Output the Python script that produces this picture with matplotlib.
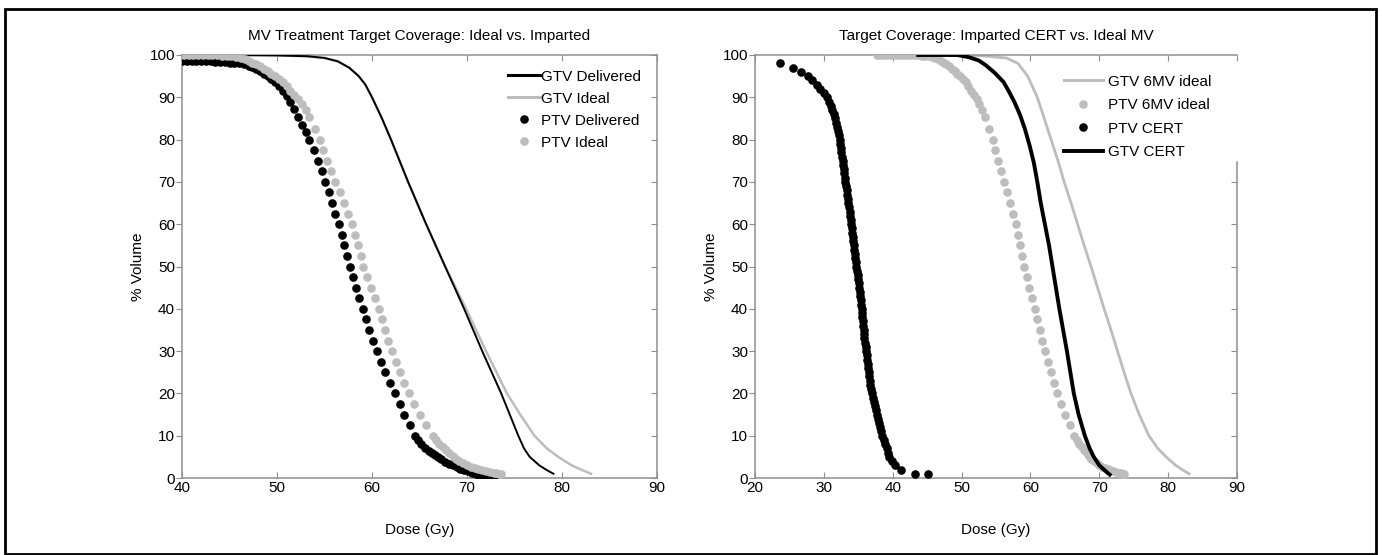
import matplotlib
matplotlib.use("Agg")
import matplotlib.pyplot as plt
import matplotlib.lines as mlines
from matplotlib.patches import Rectangle

plt.rcParams['font.family'] = ['Liberation Sans', 'DejaVu Sans']
plt.rcParams['font.size'] = 11

# ---- data (dose in Gy, % volume) ----
# left panel GTV curves
gtv_del_dose = [40.0, 45.0, 50.0, 53.2, 55.0, 56.4, 57.6, 58.6, 59.3, 60.0, 61.05, 62.0, 62.9, 63.8,
                64.75, 65.7, 66.7, 67.7, 68.7, 69.7, 70.65, 71.6, 72.6, 73.6, 74.5, 75.4, 76.0,
                76.6, 77.6, 78.3, 79.1]
gtv_del_vol = [100, 100, 99.9, 99.7, 99.3, 98.5, 97.0, 95.0, 93.0, 90.0, 85.0, 80.0, 75.0, 70.0,
               65.0, 60.0, 55.0, 50.0, 45.0, 40.0, 35.0, 30.0, 25.0, 20.0, 15.0, 10.0, 7.0,
               5.0, 3.0, 2.0, 1.0]
gtv_ideal_dose = [40.0, 45.0, 50.0, 53.2, 55.0, 56.4, 57.6, 58.6, 59.3, 60.0, 61.05, 62.0, 62.9, 63.8,
                  64.75, 65.7, 66.7, 67.7, 68.8, 69.9, 70.95, 72.0, 73.1, 74.2, 75.6, 77.1, 78.4,
                  79.6, 81.0, 82.0, 83.05]
gtv_ideal_vol = [100, 100, 99.9, 99.7, 99.3, 98.5, 97.0, 95.0, 93.0, 90.0, 85.0, 80.0, 75.0, 70.0,
                 65.0, 60.0, 55.0, 50.0, 45.0, 40.0, 35.0, 30.0, 25.0, 20.0, 15.0, 10.0, 7.0,
                 5.0, 3.0, 2.0, 1.0]

# right panel GTV curves
gtv_6mv_dose = [37.7, 45.0, 50.0, 53.0, 56.5, 58.2, 59.6, 60.3, 61.0, 62.0, 63.0, 64.0, 64.9, 65.9,
                66.85, 67.8, 68.8, 69.75, 70.7, 71.7, 72.65, 73.6, 74.6, 75.8, 77.2, 78.5, 79.7,
                81.1, 82.0, 83.05]
gtv_6mv_vol = [100, 100, 99.9, 99.8, 99.3, 98.0, 95.0, 92.5, 90.0, 85.0, 80.0, 75.0, 70.0, 65.0,
               60.0, 55.0, 50.0, 45.0, 40.0, 35.0, 30.0, 25.0, 20.0, 15.0, 10.0, 7.0, 5.0,
               3.0, 2.0, 1.0]
gtv_cert_dose = [43.7, 49.4, 51.0, 52.5, 53.5, 54.8, 56.1, 56.9, 57.7, 58.5, 59.2, 59.9, 60.5, 61.0,
                 61.5, 62.1, 62.7, 63.2, 63.7, 64.2, 64.75, 65.3, 65.8, 66.3, 67.0, 67.9, 68.6,
                 69.2, 70.0, 70.8, 71.5]
gtv_cert_vol = [100, 100, 99.5, 98.7, 97.6, 95.8, 93.6, 91.3, 88.8, 85.8, 82.5, 78.5, 74.5, 70.0,
                65.0, 60.0, 55.0, 50.0, 45.0, 40.0, 35.0, 30.0, 25.0, 20.0, 15.0, 10.0, 7.0,
                5.0, 3.0, 1.8, 0.8]

# PTV ideal (same plan in both panels)
ptv_ideal_dose = [37.7, 38.2, 38.7, 39.2, 39.7, 40.2, 40.7, 41.2, 41.7, 42.2, 42.7, 43.2, 43.7, 44.2,
                  44.7, 45.2, 45.7, 46.2, 46.6, 47.0, 47.4, 47.8, 48.2, 48.6, 49.0, 49.4, 49.8, 50.2,
                  50.6, 51.0, 51.4, 51.8, 52.2, 52.6, 53.0, 53.4,
                  54.0, 54.5, 54.85, 55.3, 55.7, 56.1, 56.6, 57.05, 57.5, 57.9, 58.2, 58.5, 58.8, 59.1,
                  59.45, 59.85, 60.3, 60.7, 61.0, 61.35, 61.7, 62.1, 62.5, 62.95, 63.4, 63.9, 64.45, 65.0,
                  65.7, 66.4,
                  66.75, 67.1, 67.45, 67.8, 68.15, 68.5, 68.85, 69.2, 69.6, 70.0, 70.4, 70.8, 71.2, 71.6,
                  72.0, 72.4, 72.8, 73.1, 73.4, 73.6]
ptv_ideal_vol = [100, 100, 100, 100, 100, 100, 100, 100, 99.9, 99.9, 99.9, 99.9, 99.9, 99.8,
                 99.8, 99.7, 99.5, 99.3, 99.0, 98.6, 98.2, 97.8, 97.4, 96.8, 96.2, 95.6, 95.0, 94.3,
                 93.5, 92.6, 91.6, 90.6, 89.5, 88.3, 86.9, 85.3,
                 82.5, 80.0, 77.5, 75.0, 72.5, 70.0, 67.5, 65.0, 62.5, 60.0, 57.5, 55.0, 52.5, 50.0,
                 47.5, 45.0, 42.5, 40.0, 37.5, 35.0, 32.5, 30.0, 27.5, 25.0, 22.5, 20.0, 17.5, 15.0,
                 12.5, 10.0,
                 9.0, 8.1, 7.3, 6.6, 5.9, 5.3, 4.6, 4.0, 3.5, 3.0, 2.7, 2.4, 2.15, 1.95,
                 1.7, 1.5, 1.3, 1.15, 1.0, 0.95]

ptv_del_dose = [40.0, 40.5, 41.0, 41.5, 42.0, 42.5, 43.0, 43.5, 44.0, 44.5, 45.0, 45.5, 46.0, 46.5,
                47.0, 47.4, 47.8, 48.2, 48.6, 49.0, 49.4, 49.8, 50.2, 50.6, 51.0, 51.4, 51.8, 52.2,
                52.6, 53.0,
                53.4, 53.85, 54.3, 54.7, 55.1, 55.45, 55.8, 56.15, 56.5, 56.8, 57.1, 57.4, 57.7, 58.0,
                58.3, 58.65, 59.0, 59.35, 59.7, 60.1, 60.5, 60.95, 61.4, 61.9, 62.4, 62.9, 63.4, 63.95,
                64.5,
                64.85, 65.2, 65.6, 65.95, 66.3, 66.6, 66.9, 67.3, 67.7, 68.1, 68.5, 68.9, 69.3, 69.7,
                70.1, 70.5, 70.9, 71.3, 71.7, 72.1, 72.5, 72.8]
ptv_del_vol = [98.6, 98.6, 98.6, 98.5, 98.5, 98.5, 98.5, 98.4, 98.4, 98.3, 98.2, 98.1, 98.0, 97.8,
               97.5, 97.1, 96.7, 96.1, 95.6, 95.0, 94.3, 93.5, 92.6, 91.5, 90.2, 88.8, 87.2, 85.4,
               83.5, 81.7,
               80.0, 77.5, 75.0, 72.5, 70.0, 67.5, 65.0, 62.5, 60.0, 57.5, 55.0, 52.5, 50.0, 47.5,
               45.0, 42.5, 40.0, 37.5, 35.0, 32.5, 30.0, 27.5, 25.0, 22.5, 20.0, 17.5, 15.0, 12.5,
               10.0,
               9.0, 8.1, 7.2, 6.5, 5.8, 5.4, 5.0, 4.4, 3.9, 3.4, 3.0, 2.6, 2.2, 1.9,
               1.6, 1.3, 1.05, 0.8, 0.6, 0.4, 0.25, 0.15]

ptv_cert_dose = [23.6, 25.5, 26.7, 27.7, 28.35, 29.0, 29.5, 30.0, 30.5, 30.75, 31.0, 31.25, 31.5,
                 31.65, 31.8, 31.95, 32.1, 32.2, 32.3, 32.4, 32.5, 32.55, 32.65, 32.75, 32.8, 32.9,
                 32.95, 33.05, 33.1, 33.2, 33.3, 33.4, 33.5, 33.55, 33.65, 33.75, 33.8, 33.9, 34.0,
                 34.05, 34.15, 34.2, 34.3, 34.35, 34.4, 34.5, 34.55, 34.65, 34.7, 34.8, 34.9, 34.95,
                 35.05, 35.1, 35.2, 35.25, 35.35, 35.4, 35.5, 35.55, 35.6, 35.7, 35.75, 35.8, 35.85,
                 35.9, 36.0, 36.05, 36.1, 36.2, 36.25, 36.35, 36.4, 36.5, 36.6, 36.65, 36.75, 36.85,
                 37.0, 37.15, 37.3, 37.45, 37.6, 37.75, 37.9, 38.05, 38.2, 38.35, 38.5, 38.7, 38.9,
                 39.1, 39.3, 39.5, 39.9, 40.3, 41.2, 43.3, 45.1]
ptv_cert_vol = [98, 97, 96, 95, 94, 93, 92, 91, 90, 89, 88, 87, 86,
                85, 84, 83, 82, 81, 80, 79, 78, 77, 76, 75, 74, 73,
                72, 71, 70, 69, 68, 67, 66, 65, 64, 63, 62, 61, 60,
                59, 58, 57, 56, 55, 54, 53, 52, 51, 50, 49, 48, 47,
                46, 45, 44, 43, 42, 41, 40, 39, 38, 37, 36, 35, 34,
                33, 32, 31, 30, 29, 28, 27, 26, 25, 24, 23, 22, 21,
                20, 19, 18, 17, 16, 15, 14, 13, 12, 11, 10, 9, 8,
                7, 6, 5, 4, 3, 2, 1, 1]

left_ticks = [40, 50, 60, 70, 80, 90]
right_ticks = [20, 30, 40, 50, 60, 70, 80, 90]
y_ticks = [0, 10, 20, 30, 40, 50, 60, 70, 80, 90, 100]

GRAY = '#bdbdbd'
SPINE = '#8f8f8f'
W, H = 1382, 555

fig = plt.figure(figsize=(W / 100, H / 100), dpi=100)
ax1 = fig.add_axes([182 / W, 1 - 478 / H, 475 / W, 423 / H])
ax2 = fig.add_axes([755 / W, 1 - 478 / H, 482 / W, 423 / H])

ms = 6.2

# left panel
ax1.plot(gtv_ideal_dose, gtv_ideal_vol, color=GRAY, lw=1.8, zorder=2)
ax1.plot(gtv_del_dose, gtv_del_vol, color='black', lw=1.4, zorder=3)
ax1.plot(ptv_del_dose, ptv_del_vol, 'o', color='black', ms=ms, mew=0, zorder=4)
ax1.plot(ptv_ideal_dose, ptv_ideal_vol, 'o', color=GRAY, ms=ms, mew=0, zorder=4)
ax1.set_xlim(40, 90)
ax1.set_xticks(left_ticks)
ax1.set_title('MV Treatment Target Coverage: Ideal vs. Imparted', fontsize=11, pad=11)

h1 = [mlines.Line2D([], [], color='black', lw=2.2),
      mlines.Line2D([], [], color=GRAY, lw=2.2),
      mlines.Line2D([], [], color='black', marker='o', ls='none', ms=ms, mew=0),
      mlines.Line2D([], [], color=GRAY, marker='o', ls='none', ms=ms, mew=0)]
ax1.legend(h1, ['GTV Delivered', 'GTV Ideal', 'PTV Delivered', 'PTV Ideal'],
           loc='upper right', bbox_to_anchor=(652 / W, 1 - 59 / H), bbox_transform=fig.transFigure,
           frameon=False, handlelength=2.1, handletextpad=0.1, labelspacing=0.52,
           borderpad=0.2, fontsize=11)

# right panel
ax2.plot(gtv_6mv_dose, gtv_6mv_vol, color=GRAY, lw=2.0, zorder=2)
ax2.plot(ptv_ideal_dose, ptv_ideal_vol, 'o', color=GRAY, ms=ms, mew=0, zorder=3)
ax2.plot(ptv_cert_dose, ptv_cert_vol, 'o', color='black', ms=ms, mew=0, zorder=4)
ax2.plot(gtv_cert_dose, gtv_cert_vol, color='black', lw=2.8, zorder=4)
ax2.set_xlim(20, 90)
ax2.set_xticks(right_ticks)
ax2.set_title('Target Coverage: Imparted CERT vs. Ideal MV', fontsize=11, pad=11)

h2 = [mlines.Line2D([], [], color=GRAY, lw=2.2),
      mlines.Line2D([], [], color=GRAY, marker='o', ls='none', ms=ms, mew=0),
      mlines.Line2D([], [], color='black', marker='o', ls='none', ms=ms, mew=0),
      mlines.Line2D([], [], color='black', lw=2.8)]
ax2.legend(h2, ['GTV 6MV ideal', 'PTV 6MV ideal', 'PTV CERT', 'GTV CERT'],
           loc='upper right', bbox_to_anchor=(1222 / W, 1 - 64 / H), bbox_transform=fig.transFigure,
           frameon=False, handlelength=2.6, handletextpad=0.3, labelspacing=0.62,
           borderpad=0.2, fontsize=11)
# legend box hides the upper part of the right spine
ax2.spines['right'].set_bounds(0, 74.7)

for ax in (ax1, ax2):
    ax.set_ylim(0, 100)
    ax.set_yticks(y_ticks)
    ax.set_xlabel('Dose (Gy)', fontsize=11, labelpad=20)
    ax.set_ylabel('% Volume', fontsize=11, labelpad=3)
    for s in ax.spines.values():
        s.set_color(SPINE)
        s.set_linewidth(1.1)
    ax.tick_params(axis='x', direction='in', top=True, length=4, color=SPINE, pad=2,
                   labelsize=11)
    ax.tick_params(axis='y', direction='out', right=True, length=4, color=SPINE, pad=1,
                   labelsize=11)
    for t in ax.yaxis.get_major_ticks():
        t.tick2line.set_marker(mlines.TICKLEFT)

for t, v in zip(ax2.yaxis.get_major_ticks(), y_ticks):
    if v > 70:
        t.tick2line.set_visible(False)

fig.add_artist(Rectangle((4.5 / W, 1.5 / H), 1371 / W, 545 / H, transform=fig.transFigure,
                         fill=False, edgecolor='black', lw=2.0))

fig.savefig('out.png', dpi=100)
